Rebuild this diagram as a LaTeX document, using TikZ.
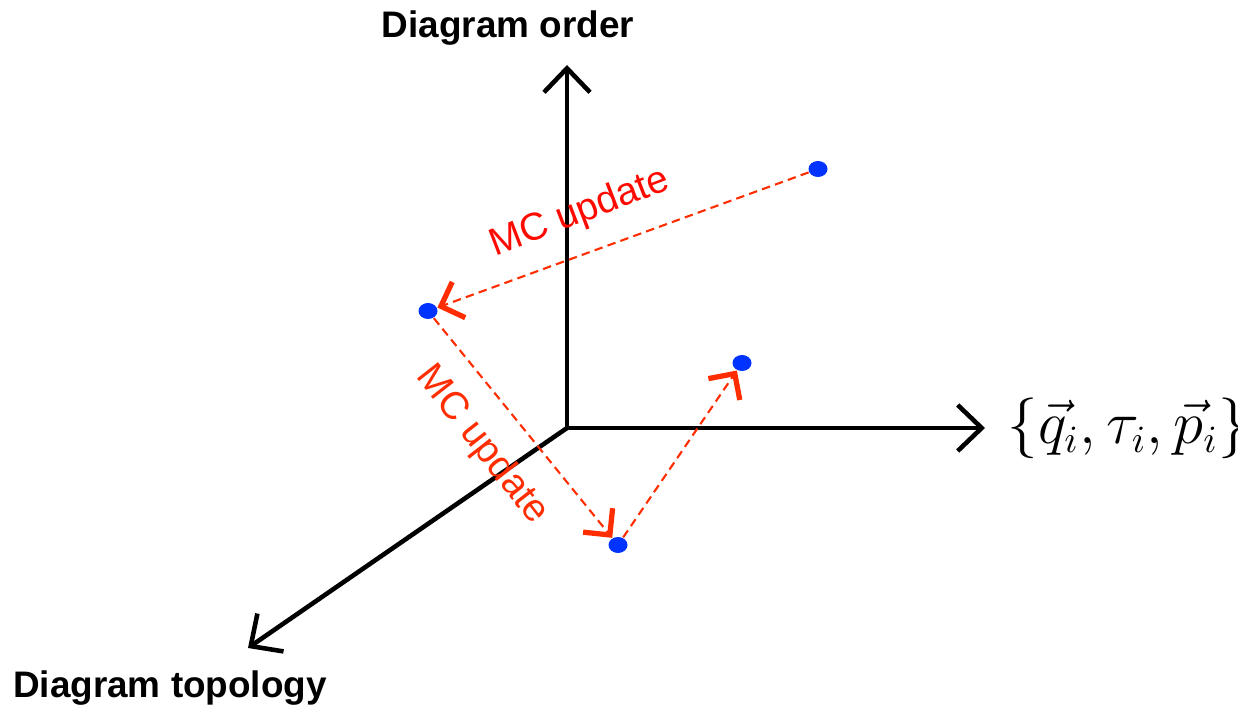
\documentclass[tikz,border=0pt]{standalone}
\usepackage{fontspec}
\setmainfont{Liberation Sans}
\usepackage{amsmath}
\usetikzlibrary{shapes.geometric, arrows.meta, positioning}
\definecolor{cDot}{RGB}{0,51,255}
\definecolor{cMove}{RGB}{255,45,0}
\definecolor{cText}{RGB}{255,10,0}
\tikzset{
	axis/.style={-{Straight Barb[length=2.4mm, width=4.6mm]}, line width=1.3pt, draw=black},
	mcdot/.style={ellipse, minimum width=0.19cm, minimum height=0.16cm, inner sep=0pt, fill=cDot},
	mcmove/.style={-{Straight Barb[length=1.9mm, width=3.8mm, line width=1.5pt]}, dash pattern=on 2.4pt off 1.5pt, line width=0.6pt, draw=cMove},
	% labels
	axlabel/.style={font=\fontsize{10.5}{12}\selectfont\bfseries},
	mclabel/.style={font=\fontsize{11}{13}\selectfont, text=cText},
}
\begin{document}
\begin{tikzpicture}
	\useasboundingbox (0,0) rectangle (12.38,7.10);
	% axes
	\coordinate (o) at (5.67,2.82);
	\coordinate (yEnd) at (5.67,6.45);
	\coordinate (xEnd) at (9.85,2.82);
	\coordinate (zEnd) at (2.48,0.62);
	\draw[axis] (o) -- (yEnd);
	\draw[axis] (o) -- (xEnd);
	\draw[axis] (o) -- (zEnd);
	\node[axlabel] (order) at (5.08,6.82) {Diagram order};
	\node[axlabel] (topo) at (1.70,0.22) {Diagram topology};
	\node[right=0.22cm of xEnd, inner sep=0pt, font=\fontsize{16}{18}\selectfont] (config) {$\{\vec{q}_i,\tau_i,\vec{p}_i\}$};
	% configurations
	\node[mcdot] (d1) at (8.18,5.41) {};
	\node[mcdot] (d2) at (4.28,3.99) {};
	\node[mcdot] (d3) at (6.18,1.65) {};
	\node[mcdot] (d4) at (7.42,3.47) {};
	\draw[mcmove] (d1) -- (d2);
	\draw[mcmove] (d2) -- (d3);
	\draw[mcmove] (d3) -- (d4);
	\node[mclabel, rotate=21] (up1) at (5.80,4.97) {MC update};
	\node[mclabel, text=cMove, rotate=-52] (up2) at (4.82,2.65) {MC update};
\end{tikzpicture}
\end{document}
